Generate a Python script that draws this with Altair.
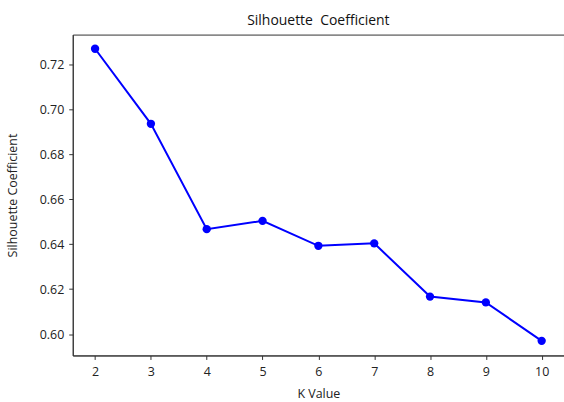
import altair as alt
import pandas as pd

# K values and the silhouette coefficient for each clustering
k_values = [2, 3, 4, 5, 6, 7, 8, 9, 10]
silhouette = [0.7270, 0.6936, 0.6467, 0.6504, 0.6393, 0.6404, 0.6167, 0.6141, 0.5970]

y_ticks = [0.60, 0.62, 0.64, 0.66, 0.68, 0.70, 0.72]

df = pd.DataFrame({"k": k_values, "score": silhouette})

FONT = "Open Sans"
BLUE = "#0000ff"

x_enc = alt.X(
    "k:Q",
    title="K Value",
    scale=alt.Scale(domain=[1.6, 10.4], nice=False, zero=False),
    axis=alt.Axis(values=k_values, format="d", grid=False, tickSize=4,
                  labelPadding=6, titlePadding=10),
)
y_enc = alt.Y(
    "score:Q",
    title="Silhouette Coefficient",
    scale=alt.Scale(domain=[0.5905, 0.7333], nice=False, zero=False),
    axis=alt.Axis(values=y_ticks, format=".2f", grid=False, tickSize=4,
                  labelPadding=5, titlePadding=20),
)

base = alt.Chart(df).encode(x=x_enc, y=y_enc)
line = base.mark_line(color=BLUE, strokeWidth=2)
points = base.mark_circle(color=BLUE, opacity=1, size=70)

chart = (
    alt.layer(line, points)
    .properties(
        width=493,
        height=322,
        title=alt.TitleParams(
            "Silhouette\u00a0 Coefficient",
            fontSize=14,
            fontWeight="normal",
            font=FONT,
            color="#111111",
            anchor="middle",
            offset=7,
        ),
        autosize=alt.AutoSizeParams(type="none"),
        padding={"left": 73, "top": 34, "right": 0, "bottom": 46},
    )
    .configure_view(stroke="#333333", strokeWidth=1)
    .configure_axis(
        domainColor="#333333",
        tickColor="#333333",
        labelColor="#222222",
        titleColor="#222222",
        labelFont=FONT,
        titleFont=FONT,
        labelFontSize=12.5,
        titleFontSize=12.5,
        titleFontWeight="normal",
    )
)

chart.save("out.html", embed_options={"renderer": "svg", "actions": False})
